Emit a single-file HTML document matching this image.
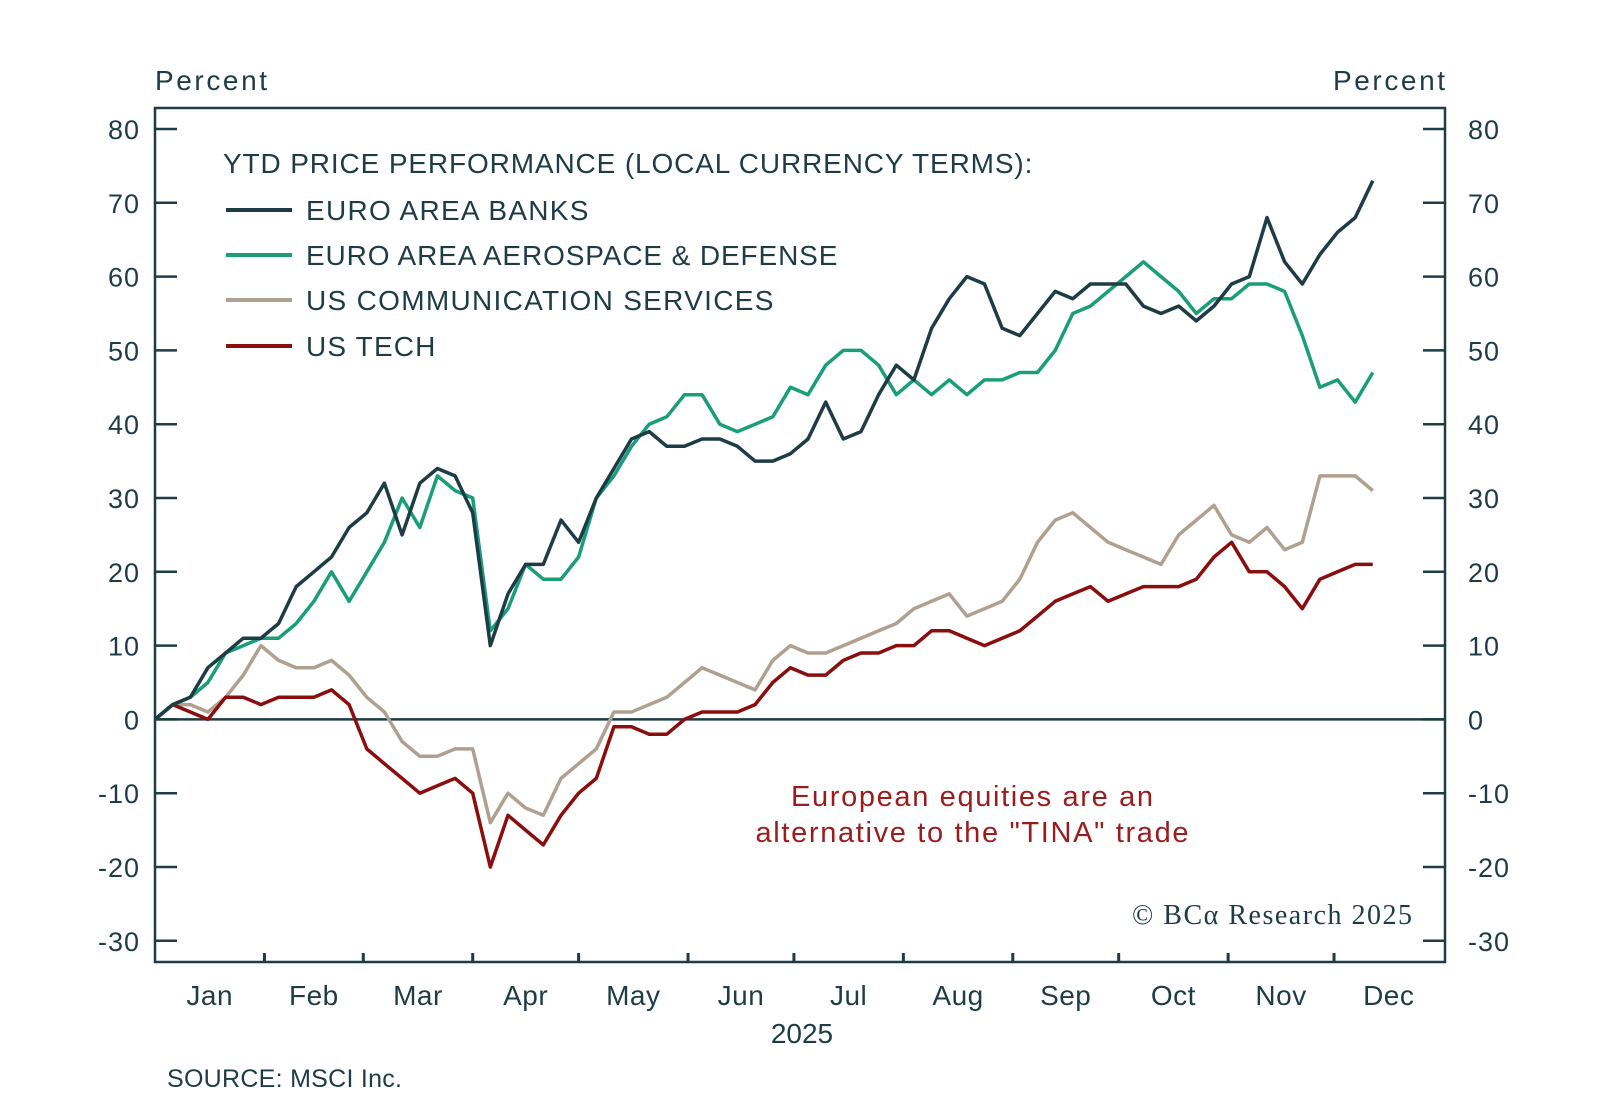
<!DOCTYPE html>
<html><head><meta charset="utf-8"><style>
html,body{margin:0;padding:0;background:#fff;}
svg{display:block;font-family:"Liberation Sans",sans-serif;}
</style></head><body>
<svg id="chart" width="1600" height="1107" viewBox="0 0 1600 1107" xmlns="http://www.w3.org/2000/svg">
<g id="axes"></g>
<g id="series"></g>
<g fill="#1d3c45" font-size="28" letter-spacing="0.6">
<text x="223" y="173" textLength="810" lengthAdjust="spacing">YTD PRICE PERFORMANCE (LOCAL CURRENCY TERMS):</text>
<line x1="226" y1="210" x2="292" y2="210" stroke="#1d3c45" stroke-width="4"/>
<text x="306" y="220" textLength="283" lengthAdjust="spacing">EURO AREA BANKS</text>
<line x1="226" y1="255" x2="292" y2="255" stroke="#1a9e7a" stroke-width="4"/>
<text x="306" y="265" textLength="532" lengthAdjust="spacing">EURO AREA AEROSPACE &amp; DEFENSE</text>
<line x1="226" y1="300" x2="292" y2="300" stroke="#b0a090" stroke-width="4"/>
<text x="306" y="310" textLength="468" lengthAdjust="spacing">US COMMUNICATION SERVICES</text>
<line x1="226" y1="346" x2="292" y2="346" stroke="#8b0e0e" stroke-width="4"/>
<text x="306" y="356" textLength="130" lengthAdjust="spacing">US TECH</text>
</g>
<text x="972" y="806" fill="#9b1c1c" font-size="29" text-anchor="middle" textLength="362" lengthAdjust="spacing">European equities are an</text>
<text x="972" y="842" fill="#9b1c1c" font-size="29" text-anchor="middle" textLength="433" lengthAdjust="spacing">alternative to the "TINA" trade</text>
<text x="1412" y="924" fill="#1d3c45" font-size="28" text-anchor="end" font-family="Liberation Serif,serif" textLength="280" lengthAdjust="spacing">© BCα Research 2025</text>
<text x="155" y="90" fill="#1d3c45" font-size="28" textLength="112" lengthAdjust="spacing">Percent</text>
<text x="1333" y="90" fill="#1d3c45" font-size="28" textLength="112" lengthAdjust="spacing">Percent</text>
<text x="802" y="1043" fill="#1d3c45" font-size="28" text-anchor="middle">2025</text>
<text x="167" y="1087" fill="#1d3c45" font-size="25" textLength="235" lengthAdjust="spacing">SOURCE: MSCI Inc.</text>
</svg>
<script>
const days=[0,5,10,15,20,25,30,35,40,45,50,55,60,65,70,75,80,85,90,95,100,105,110,115,120,125,130,135,140,145,150,155,160,165,170,175,180,185,190,195,200,205,210,215,220,225,230,235,240,245,250,255,260,265,270,275,280,285,290,295,300,305,310,315,320,325,330,335,340,345];
const banks=[0,2,3,7,9,11,11,13,18,20,22,26,28,32,25,32,34,33,28,10,17,21,21,27,24,30,34,38,39,37,37,38,38,37,35,35,36,38,43,38,39,44,48,46,53,57,60,59,53,52,55,58,57,59,59,59,56,55,56,54,56,59,60,68,62,59,63,66,68,73];
const defense=[0,2,3,5,9,10,11,11,13,16,20,16,20,24,30,26,33,31,30,12,15,21,19,19,22,30,33,37,40,41,44,44,40,39,40,41,45,44,48,50,50,48,44,46,44,46,44,46,46,47,47,50,55,56,58,60,62,60,58,55,57,57,59,59,58,52,45,46,43,47];
const comm=[0,2,2,1,3,6,10,8,7,7,8,6,3,1,-3,-5,-5,-4,-4,-14,-10,-12,-13,-8,-6,-4,1,1,2,3,5,7,6,5,4,8,10,9,9,10,11,12,13,15,16,17,14,15,16,19,24,27,28,26,24,23,22,21,25,27,29,25,24,26,23,24,33,33,33,31];
const tech=[0,2,1,0,3,3,2,3,3,3,4,2,-4,-6,-8,-10,-9,-8,-10,-20,-13,-15,-17,-13,-10,-8,-1,-1,-2,-2,0,1,1,1,2,5,7,6,6,8,9,9,10,10,12,12,11,10,11,12,14,16,17,18,16,17,18,18,18,19,22,24,20,20,18,15,19,20,21,21];
const yTicks=[80,70,60,50,40,30,20,10,0,-10,-20,-30];
const monthLabels=["Jan","Feb","Mar","Apr","May","Jun","Jul","Aug","Sep","Oct","Nov","Dec"];
const monthStarts=[0,31,59,90,120,151,181,212,243,273,304,334,365];

const NS="http://www.w3.org/2000/svg";
const L=155,R=1445,T=108,B=962;
const xs=d=>L+d*3.53;
const ys=v=>129+(80-v)*7.38;
const C="#1d3c45";
function mk(tag,attrs,parent){const e=document.createElementNS(NS,tag);for(const k in attrs)e.setAttribute(k,attrs[k]);parent.appendChild(e);return e;}
const ax=document.getElementById('axes');
let e=mk('rect',{x:L,y:T,width:R-L,height:B-T,fill:'none',stroke:C,'stroke-width':2.5},ax);


e=mk('line',{x1:L,x2:R,y1:ys(0),y2:ys(0),stroke:C,'stroke-width':2.5},ax);


yTicks.forEach(v=>{
 const y=ys(v);
 let t=mk('line',{x1:L,x2:L+22,y1:y,y2:y,stroke:C,'stroke-width':2.5},ax);
 
 
 t=mk('line',{x1:R-22,x2:R,y1:y,y2:y,stroke:C,'stroke-width':2.5},ax);
 
 
 let tx=mk('text',{x:140,y:y+10,'text-anchor':'end','font-size':27,fill:C,'letter-spacing':1},ax);tx.textContent=v;
 
 
 tx=mk('text',{x:1468,y:y+10,'font-size':27,fill:C,'letter-spacing':1},ax);tx.textContent=v;
 
 
});
for(let i=1;i<12;i++){
 const x=xs(monthStarts[i]);
 const t=mk('line',{x1:x,x2:x,y1:B-9,y2:B,stroke:C,'stroke-width':3},ax);
 
 
}
monthLabels.forEach((m,i)=>{
 const x=xs((monthStarts[i]+monthStarts[i+1])/2);
 const t=mk('text',{x:x,y:1005,'text-anchor':'middle','font-size':28,fill:C,'letter-spacing':0.5},ax);t.textContent=m;
 
 
});
const sg=document.getElementById('series');
[[comm,'#b0a090','series-us-communication'],[tech,'#8b0e0e','series-us-tech'],[defense,'#1a9e7a','series-defense'],[banks,'#1d3c45','series-banks']].forEach(([arr,col,name])=>{
 const d=arr.map((v,i)=>(i?'L':'M')+xs(days[i]).toFixed(1)+','+ys(v).toFixed(1)).join('');
 const p=mk('path',{d:d,fill:'none',stroke:col,'stroke-width':3.5,'stroke-linejoin':'round'},sg);
 
 
});
</script>
</body></html>
